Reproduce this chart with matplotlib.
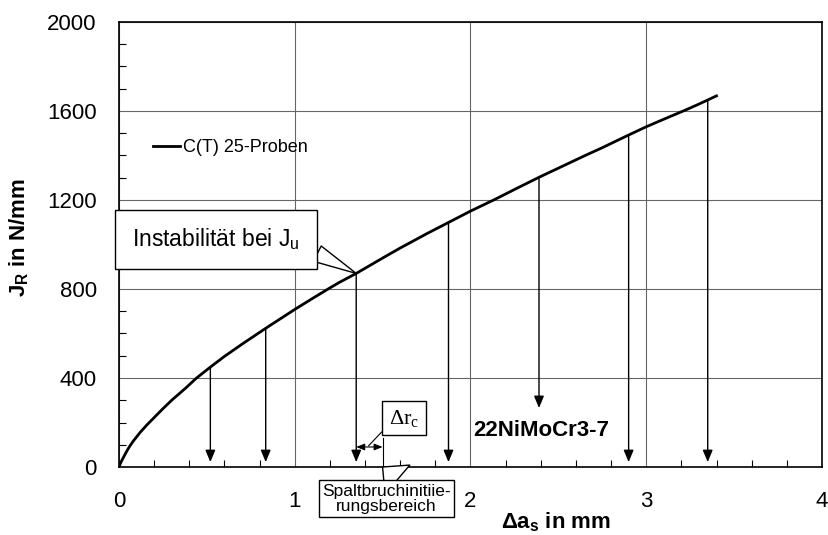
import matplotlib
matplotlib.use("Agg")
import matplotlib.pyplot as plt
from matplotlib.ticker import MultipleLocator

plt.rcParams['font.family'] = ['Liberation Sans', 'DejaVu Sans']
plt.rcParams['mathtext.fontset'] = 'custom'
plt.rcParams['mathtext.rm'] = 'Liberation Sans'
plt.rcParams['mathtext.bf'] = 'Liberation Sans:bold'
plt.rcParams['mathtext.it'] = 'Liberation Serif'

# J_R curve
delta_a = [0, 0.01, 0.03, 0.045, 0.06, 0.08, 0.12, 0.16, 0.2, 0.25, 0.3, 0.38,
           0.44, 0.52, 0.6, 0.7, 0.84, 1.0, 1.1, 1.19, 1.25, 1.35, 1.5, 1.6,
           1.75, 1.875, 2.0, 2.14, 2.25, 2.39, 2.5, 2.65, 2.75, 2.9, 3.0, 3.1,
           3.22, 3.3, 3.4]
J_R = [0, 20, 50, 72, 92, 115, 155, 190, 222, 262, 300, 355,
       399, 449, 497, 552, 626, 708, 757, 800, 828, 870, 939, 984,
       1048, 1099, 1150, 1203, 1247, 1302, 1343, 1399, 1435, 1492, 1529, 1563,
       1603, 1631, 1668]

# vertical arrows from the curve down to the axis
arrow_x = [0.52, 0.835, 1.35, 1.875, 2.39, 2.90, 3.35]
arrow_top = [449, 624, 870, 1099, 1302, 1492, 1650]
arrow_bottom = [22, 22, 22, 22, 265, 22, 22]

x_ticks = [0, 1, 2, 3, 4]
y_ticks = [0, 400, 800, 1200, 1600, 2000]

fig = plt.figure(figsize=(8.29, 5.35), dpi=100)
ax = fig.add_axes([0.1435, 0.1271, 0.848, 0.8318])

ax.plot(delta_a, J_R, color='black', lw=2, label='C(T) 25-Proben', zorder=3)

for xa, top, bot in zip(arrow_x, arrow_top, arrow_bottom):
    ax.annotate('', xy=(xa, bot), xytext=(xa, top),
                arrowprops=dict(arrowstyle='-|>,head_length=0.6,head_width=0.25',
                                mutation_scale=12, color='black', lw=1,
                                shrinkA=0, shrinkB=0))

ax.set_xlim(0, 4)
ax.set_ylim(0, 2000)
ax.set_xticks(x_ticks)
ax.set_yticks(y_ticks)
ax.xaxis.set_minor_locator(MultipleLocator(0.2))
ax.yaxis.set_minor_locator(MultipleLocator(100))
ax.tick_params(which='major', length=0, labelsize=16)
ax.tick_params(axis='x', which='major', pad=17)
ax.tick_params(axis='y', which='major', pad=16)
ax.tick_params(which='minor', direction='in', length=5, width=0.8)
ax.grid(True, which='major', color='#666666', lw=0.8)
for s in ax.spines.values():
    s.set_linewidth(1.2)

ax.set_xlabel(r'Δa$_\mathbf{s}$ in mm', fontsize=16, fontweight='bold')
ax.set_ylabel(r'J$_\mathbf{R}$ in N/mm', fontsize=16, fontweight='bold')
ax.xaxis.set_label_coords(0.622, -0.097)
ax.yaxis.set_label_coords(-0.127, 0.515)

ax.legend(loc='center left', bbox_to_anchor=(0.048, 0.717), frameon=False,
          fontsize=13, handlelength=1.5, handletextpad=0.2,
          borderpad=0, borderaxespad=0)

# callouts
ax.annotate(r'Instabilität bei J$_\mathrm{u}$', xy=(1.35, 870), xytext=(0.551, 1022),
            fontsize=16.5, ha='center', va='center', annotation_clip=False,
            bbox=dict(boxstyle='square,pad=0.75', fc='white', ec='black', lw=1),
            arrowprops=dict(arrowstyle='wedge,tail_width=0.75,shrink_factor=0.5',
                            fc='white', ec='black', lw=1, relpos=(1.0, 0.3),
                            shrinkA=0, shrinkB=0))

ax.text(2.017, 166, '22NiMoCr3-7', fontsize=16, fontweight='bold', va='center')

ax.annotate('', xy=(1.35, 90), xytext=(1.5, 90),
            arrowprops=dict(arrowstyle='<|-|>,head_length=0.5,head_width=0.2',
                            mutation_scale=10, color='black', lw=0.8,
                            shrinkA=0, shrinkB=0))
ax.plot([1.5, 1.5], [0, 130], color='black', lw=0.8)
ax.annotate(r'Δr$_\mathit{c}$', xy=(1.42, 95), xytext=(1.622, 220),
            fontsize=16, family='Liberation Serif', ha='center', va='center',
            bbox=dict(boxstyle='square,pad=0.3', fc='white', ec='black', lw=1),
            arrowprops=dict(arrowstyle='-', color='black', lw=0.8, relpos=(0, 0.2),
                            shrinkA=0, shrinkB=0))

ax.annotate('Spaltbruchinitiie-\nrungsbereich', xy=(1.5, 0), xytext=(1.523, -142),
            fontsize=12.5, ha='center', va='center', linespacing=1.0,
            annotation_clip=False,
            bbox=dict(boxstyle='square,pad=0.2', fc='white', ec='black', lw=1),
            arrowprops=dict(arrowstyle='wedge,tail_width=2.2,shrink_factor=0.5',
                            fc='white', ec='black', lw=1, relpos=(0.62, 1.0),
                            shrinkA=0, shrinkB=0))

fig.savefig('out.png', dpi=100)
